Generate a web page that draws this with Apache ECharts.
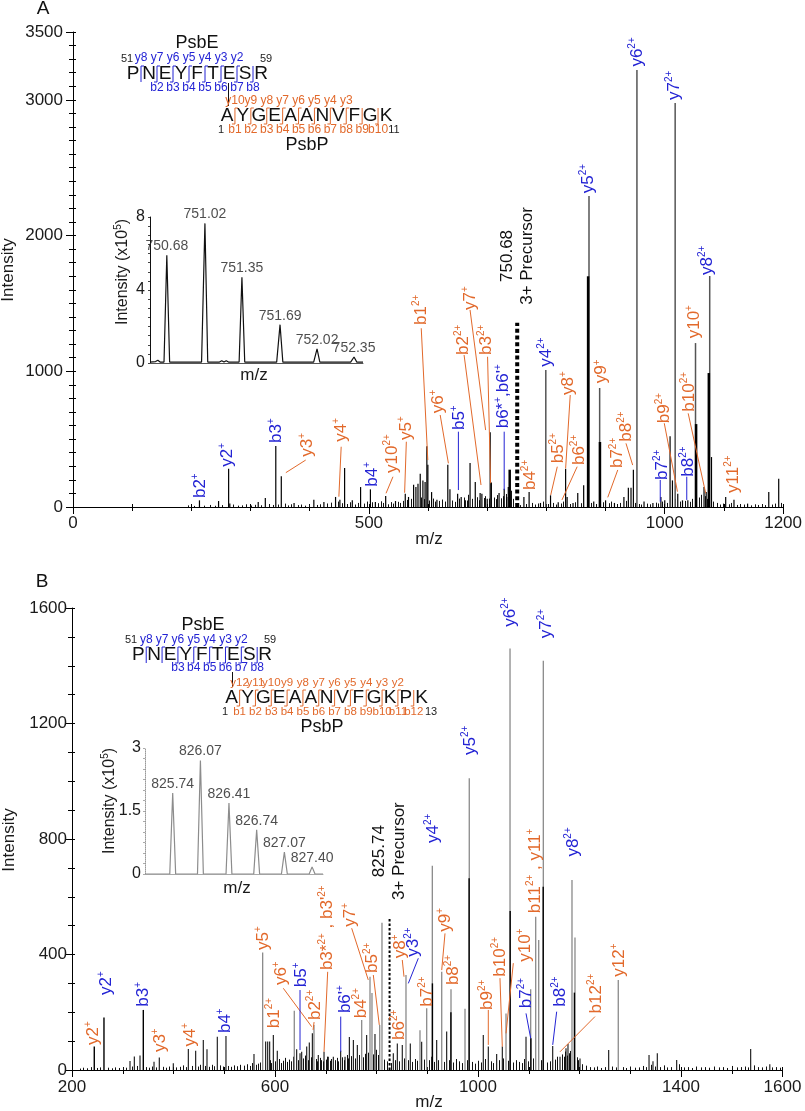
<!DOCTYPE html>
<html><head><meta charset="utf-8">
<script src="https://cdn.jsdelivr.net/npm/echarts@6.0.0/dist/echarts.min.js"></script>
<style>html,body{margin:0;padding:0;background:#fff}#c{width:805px;height:1111px}</style>
</head><body><div id="c"></div><script>
// ---------------- DATA ----------------
const aXTicks = [0, 500, 1000, 1200];
const aYTicks = [0, 1000, 2000, 3000, 3500];
const bXTicks = [200, 600, 1000, 1400, 1600];
const bYTicks = [0, 400, 800, 1200, 1600];
const insetATicks = [0, 4, 8];
const insetBTicks = [0, 1.5, 3];

// Panel A spectrum (m/z, intensity)
const aMajor = [[953,3220],[1017.6,2977],[872,2292],[1076,1702],[1052,1208],[799,1010],[890,877]];
const aBold = [[870.5,1700],[1074.5,987],[1053,611],[890.5,479],[738,275]];
const aPeaks = [[213.7,49],[246,44],[263,282],[265,25],[313,37],[325,66],[342.7,449],[352,226],[373.6,29],[407,54],[424,37],[443.7,74],[451,54],[459,287],[472,49],[486,147],[502.6,130],[511,37],[528.4,81],[545,44],[561.5,98],[567,74],[575.6,164],[579.5,147],[583,172],[586.8,245],[591.3,196],[595,184],[598,447],[599.7,312],[606,110],[615,54],[633.4,312],[637,130],[650,98],[656,74],[663,49],[671,324],[679.8,184],[688,103],[691,98],[700,60],[705,550],[707,180],[720,103],[728.7,135],[733,74],[735.6,147],[762,74],[770.8,110],[790,30],[807,86],[820,35],[832.5,282],[835,74],[845,30],[853,103],[863,160],[880,40],[900,49],[915,30],[931,74],[938.5,142],[943,142],[947,275],[965,40],[980,30],[993.5,74],[1000,49],[1009,521],[1013,196],[1022,98],[1030,49],[1039,49],[1066.4,147],[1070,110],[1079,368],[1103,74],[1117,54],[1140,25],[1175.8,110],[1192.6,209]];
const aNoise = [[195,12],[205,8],[222,10],[232,15],[240,9],[252,14],[270,18],[278,10],[285,12],[292,20],[300,11],[308,16],[318,13],[332,22],[338,15],[346,18],[358,25],[364,12],[368,20],[380,14],[386,18],[392,10],[398,22],[412,15],[418,20],[430,26],[436,32],[447,40],[455,28],[463,22],[468,35],[477,18],[482,30],[491,25],[496,40],[506,35],[515,28],[520,42],[524,30],[533,20],[537,36],[541,25],[549,38],[553,30],[557,45],[564,52],[571,60],[574,40],[588,70],[593,58],[602,48],[609,62],[612,40],[619,45],[624,55],[628,40],[641,48],[645,38],[653,62],[660,70],[666,48],[668,90],[675,60],[683,72],[686,50],[694,66],[697,80],[703,62],[711,70],[714,58],[717,88],[723,64],[726,80],[731,96],[740,120],[743,60],[756,14],[766,22],[775,30],[780,18],[786,26],[795,40],[803,22],[812,30],[816,18],[825,26],[828,40],[840,22],[849,35],[858,28],[868,40],[876,30],[884,22],[895,35],[905,28],[909,40],[920,22],[925,30],[935,45],[950,30],[957,22],[960,18],[970,25],[975,20],[985,32],[989,26],[996,40],[1004,30],[1018,60],[1026,40],[1034,45],[1042,38],[1046,60],[1058,70],[1062,90],[1068,80],[1072,60],[1082,40],[1088,30],[1094,18],[1098,25],[1108,20],[1112,30],[1122,15],[1128,22],[1134,18],[1146,12],[1152,20],[1158,15],[1164,22],[1170,14],[1182,18],[1187,25],[1196,30]];
const precursorA = [750.68, 1358];

// Panel B spectrum
const bGray = [[1063.1,1460],[1128.7,1417],[982.8,1010],[910,707],[1185.2,658],[1191.1,459],[810.8,510],[1113.7,531],[1119.6,450],[575.7,407],[858.1,329],[928.5,340],[1276.4,312],[787.2,323],[791.1,267],[1103.8,280],[898.9,214],[946.8,280],[974.4,212],[638,205],[1055.2,196],[885.7,138],[806.3,156],[676.8,156],[770.8,173]];
const bBlack = [[982.5,664],[1063.4,551],[1128.5,635],[1190,268],[1104.2,110],[340.5,208],[263,182],[243.9,81],[910.2,300],[946.6,200]];
const bPeaks = [[314.3,31],[322.8,47],[334,50],[361.6,29],[372,43],[399.6,23],[429.2,73],[443.7,67],[458.7,104],[466,72],[486.3,115],[503.4,118],[558.6,55],[581.6,99],[585.6,99],[589.5,99],[596.7,121],[604.5,67],[642.7,72],[649.3,58],[652.6,63],[662.5,81],[667.6,95],[673.6,127],[685.3,52],[696.6,63],[705,46],[714.9,46],[729.4,67],[738,46],[746.5,114],[754.4,104],[762.2,87],[780.6,121],[797,125],[833.1,58],[841,92],[850.8,87],[866.6,92],[889,98],[918.6,104],[938.3,133],[1010.4,121],[1020.3,81],[1036.8,55],[1047.9,81],[1094.6,115],[1147.2,83],[1161.6,46],[1173.4,75],[1177.3,90],[1201,40],[1257.5,69],[1337,52],[1344.8,30],[1353.3,58],[1391.5,35],[1537.3,73],[1575,20]];
const bNoise = [[215,5],[222,8],[230,6],[238,10],[250,7],[256,9],[270,8],[278,6],[285,9],[292,7],[300,10],[306,8],[318,12],[328,14],[345,10],[352,8],[358,12],[366,9],[380,11],[386,8],[392,12],[405,9],[412,11],[418,16],[424,10],[436,14],[448,12],[452,18],[462,14],[470,11],[476,18],[480,13],[492,16],[498,12],[508,14],[514,11],[520,16],[526,13],[532,18],[538,15],[544,20],[550,14],[554,24],[562,18],[566,22],[570,26],[590,34],[593,24],[600,30],[608,38],[612,24],[616,32],[620,42],[624,28],[628,36],[632,30],[635,46],[645,34],[656,40],[660,50],[665,34],[670,44],[680,38],[683,30],[688,42],[691,34],[694,30],[700,36],[703,46],[708,32],[711,38],[718,34],[722,42],[725,30],[733,44],[736,34],[741,52],[744,40],[750,48],[758,40],[766,52],[774,44],[777,56],[784,60],[794,54],[800,70],[803,52],[814,36],[820,30],[828,24],[837,34],[845,30],[854,40],[862,34],[870,28],[876,38],[880,32],[893,36],[903,34],[907,46],[914,28],[922,34],[933,28],[942,34],[951,26],[957,38],[962,30],[968,24],[978,34],[988,28],[994,22],[1000,32],[1005,26],[1014,38],[1025,30],[1030,24],[1041,34],[1050,40],[1060,32],[1068,26],[1075,34],[1080,28],[1086,24],[1090,38],[1098,30],[1108,40],[1124,34],[1136,26],[1142,30],[1152,36],[1156,46],[1165,54],[1169,46],[1172,64],[1175,50],[1180,58],[1182,66],[1195,44],[1198,34],[1205,20],[1212,15],[1220,10],[1228,9],[1235,12],[1242,7],[1250,10],[1265,12],[1272,9],[1285,10],[1292,7],[1300,12],[1310,8],[1318,9],[1326,14],[1332,10],[1340,18],[1348,12],[1358,10],[1366,16],[1372,9],[1380,10],[1397,20],[1405,9],[1414,10],[1422,7],[1430,12],[1440,9],[1448,10],[1456,8],[1465,12],[1474,9],[1482,10],[1490,7],[1500,14],[1510,9],[1518,10],[1526,12],[1532,9],[1544,16],[1552,10],[1560,9],[1568,12],[1580,9],[1588,10],[1596,8]];
const precursorB = [825.74, 529];

// Insets (m/z, intensity x10^5)
const insetAPeaks = [[750.68,5.9],[751.02,7.65],[751.35,4.7],[751.69,2.1],[752.02,0.77],[752.35,0.33]];
const insetAProfile = [[750.53,0.05],[750.58,0.08],[750.60,0.15],[750.62,0.05],[750.655,0.05],[750.68,5.9],[750.705,0.05],[750.99,0.05],[751.02,7.65],[751.045,0.05],[751.15,0.05],[751.17,0.12],[751.19,0.05],[751.21,0.12],[751.23,0.05],[751.325,0.05],[751.35,4.7],[751.375,0.05],[751.66,0.05],[751.69,2.1],[751.715,0.05],[751.99,0.05],[752.02,0.77],[752.045,0.05],[752.32,0.05],[752.35,0.33],[752.375,0.05],[752.43,0.05]];
const insetBPeaks = [[825.74,1.93],[826.07,2.7],[826.41,1.69],[826.74,1.05],[827.07,0.52],[827.40,0.17]];
const insetBProfile = [[825.41,0],[825.705,0],[825.74,1.93],[825.775,0],[826.035,0],[826.07,2.7],[826.105,0],[826.375,0],[826.41,1.69],[826.445,0],[826.705,0],[826.74,1.05],[826.775,0],[827.035,0],[827.07,0.52],[827.105,0],[827.365,0],[827.40,0.17],[827.435,0],[827.53,0]];

// Fragment-ion annotations: text, colour, text anchor [m/z, I], optional leader line
const aAnnots = [
 {t:'b2{+}',c:'b',at:[214.9,66]},
 {t:'y2{+}',c:'b',at:[261.4,297]},
 {t:'b3{+}',c:'b',at:[342.8,472]},
 {t:'y3{+}',c:'o',at:[396,371],from:[393.3,346],to:[359.7,253]},
 {t:'y4{+}',c:'o',at:[453.2,481],from:[453.2,444],to:[449.3,76]},
 {t:'b4{+}',c:'b',at:[505.4,150]},
 {t:'y10{2+}',c:'o',at:[539,251],from:[540.7,223],to:[529,101]},
 {t:'y5{+}',c:'o',at:[563.3,494],from:[563.3,481],to:[560.4,105]},
 {t:'b1{2+}',c:'o',at:[588.5,1341],from:[588.5,1317],to:[599.6,346]},
 {t:'y6{+}',c:'o',at:[617.6,690],from:[620.5,678],to:[634.4,322]},
 {t:'b5{+}',c:'b',at:[652.5,567],from:[651.3,555],to:[651.3,125]},
 {t:'b2{2+}',c:'o',at:[659.7,1120],from:[660.9,1120],to:[689.5,162]},
 {t:'y7{+}',c:'o',at:[671,1452],from:[671,1452],to:[697.3,567]},
 {t:'b3{2+}',c:'o',at:[699,1120],from:[700.6,1107],to:[705.7,175]},
 {t:"b6*{+},b6'{+}",c:'b',at:[727,580],from:[728.7,555],to:[728.7,125]},
 {t:'750.68\n3+ Precursor',c:'k',at:[750.6,1850]},
 {t:'b4{2+}',c:'o',at:[773,125]},
 {t:'y4{2+}',c:'b',at:[800,1034]},
 {t:'b5{2+}',c:'o',at:[819.6,322],from:[818.4,297],to:[807.3,88]},
 {t:'y8{+}',c:'o',at:[836.4,825],from:[840.3,825],to:[832.5,285]},
 {t:'b6{2+}',c:'o',at:[856,309],from:[852,297],to:[826.3,52]},
 {t:'y9{+}',c:'o',at:[893.6,912]},
 {t:'b7{2+}',c:'o',at:[920.6,287],from:[920.6,273],to:[903.7,71]},
 {t:'b8{2+}',c:'o',at:[934.5,481],from:[934.5,469],to:[945.8,309]},
 {t:'y6{2+}',c:'b',at:[954.2,3245]},
 {t:'y5{2+}',c:'b',at:[870,2312]},
 {t:'y7{2+}',c:'b',at:[1016,2999]},
 {t:'y8{2+}',c:'b',at:[1072,1710]},
 {t:'b7{2+}',c:'b',at:[996.3,199],from:[992.4,199],to:[992.4,39]},
 {t:'b9{2+}',c:'o',at:[999.2,617],from:[999.2,617],to:[1021.5,113]},
 {t:'b8{2+}',c:'b',at:[1039.5,223],from:[1037.2,223],to:[1037.2,52]},
 {t:'b10{2+}',c:'o',at:[1042.2,702],from:[1039.6,690],to:[1069.2,101]},
 {t:'y10{+}',c:'o',at:[1050.7,1243]},
 {t:'y11{2+}',c:'o',at:[1115.3,103]}
];
const bAnnots = [
 {t:'y2{+}',c:'o',at:[242,87]},
 {t:'y2{+}',c:'b',at:[268.4,260]},
 {t:'b3{+}',c:'b',at:[340.5,219]},
 {t:'y3{+}',c:'o',at:[373.4,62]},
 {t:'y4{+}',c:'o',at:[432.5,81]},
 {t:'b4{+}',c:'b',at:[502.9,128]},
 {t:'y5{+}',c:'o',at:[577,416]},
 {t:'b1{2+}',c:'o',at:[598,145]},
 {t:'y6{+}',c:'o',at:[613.2,294],from:[616.4,283],to:[672.3,150]},
 {t:'b5{+}',c:'b',at:[651.2,287],from:[649.3,277],to:[649.3,69]},
 {t:'b2{2+}',c:'o',at:[678.8,173],from:[677,166],to:[675,139]},
 {t:"b3*{2+} , b3'{2+}",c:'o',at:[703.8,346],from:[703.8,340],to:[696.6,63]},
 {t:"b6'{+}",c:'b',at:[738,197],from:[729.5,185],to:[729.5,63]},
 {t:'b4{2+}',c:'o',at:[770.8,179]},
 {t:'y7{+}',c:'o',at:[749.2,496],from:[751.1,491],to:[783.8,312]},
 {t:'b5{2+}',c:'o',at:[791.7,336],from:[793.7,329],to:[805.5,156]},
 {t:'825.74\n3+ Precursor',c:'k',at:[825.6,758]},
 {t:'b6{2+}',c:'o',at:[845,104]},
 {t:'y8{+}',c:'o',at:[846.3,387],from:[850.8,381],to:[854.2,323]},
 {t:'y3{2+}',c:'b',at:[872.5,392],from:[882.4,387],to:[862.7,300]},
 {t:'b7{2+}',c:'o',at:[900.1,219]},
 {t:'y4{2+}',c:'b',at:[912,786]},
 {t:'y5{2+}',c:'b',at:[984.2,1091]},
 {t:'y6{2+}',c:'b',at:[1064.4,1535]},
 {t:'y7{2+}',c:'b',at:[1135.4,1495]},
 {t:'b11{2+} , y11{+}',c:'o',at:[1112.3,543]},
 {t:'y8{2+}',c:'b',at:[1187.8,739]},
 {t:'y9{+}',c:'o',at:[935,479],from:[935,473],to:[928.5,346]},
 {t:'b8{2+}',c:'o',at:[951.3,294]},
 {t:'b9{2+}',c:'o',at:[1018.3,208],from:[1020.3,208],to:[1020.3,87]},
 {t:'b10{2+}',c:'o',at:[1043.3,323],from:[1043.3,318],to:[1047.9,81]},
 {t:'y10{+}',c:'o',at:[1092.6,375],from:[1069.6,370],to:[1055.2,127]},
 {t:'b7{2+}',c:'b',at:[1094.6,214],from:[1094.6,196],to:[1103.8,110]},
 {t:'b8{2+}',c:'b',at:[1161.6,219],from:[1155,202],to:[1147.2,87]},
 {t:'b12{2+}',c:'o',at:[1233.9,196],from:[1230.5,185],to:[1161.6,63]},
 {t:'y12{+}',c:'o',at:[1278.4,323]}
];

// ---------------- STYLE / LAYOUT ----------------
const FONT = "'Liberation Sans', Arial, Helvetica, sans-serif";
const BLUE = '#2323d4', ORANGE = '#e2692b';
const COL = {b: BLUE, o: ORANGE, k: '#111'};

function richStr(s) {
  let out = '', last = 0, m; const re = /\{([^}]*)\}/g;
  while ((m = re.exec(s))) {
    if (m.index > last) out += '{m|' + s.slice(last, m.index) + '}';
    out += '{s|' + m[1] + '}'; last = re.lastIndex;
  }
  if (last < s.length) out += '{m|' + s.slice(last) + '}';
  return out;
}

function ax(extra) {
  return Object.assign({type:'value', silent:true, splitLine:{show:false}, axisLine:{show:false},
    axisTick:{show:false}, axisLabel:{show:false}}, extra);
}
const lbl = (vals, size, margin) => ({show:true, customValues:vals, fontSize:size, color:'#1a1a1a', fontFamily:FONT,
  margin:margin, formatter:v => String(v)});
const BLK = {color:'#000', width:1};

function mainAxes(grid, pos, min, max, labels, margin) {
  return [
    ax({gridIndex:grid, position:pos, min, max, axisLine:{show:true, onZero:false, lineStyle:BLK},
        axisTick:{show:true, customValues:labels, length:7, lineStyle:BLK}, axisLabel:lbl(labels, 17, margin)}),
    ax({gridIndex:grid, position:pos, min, max, interval:100, axisTick:{show:true, length:4, lineStyle:BLK}}),
    ax({gridIndex:grid, position:pos, min, max, interval:100, axisTick:{show:true, inside:true, length:3, lineStyle:BLK}})
  ];
}

function peaks(data, xi, yi, color, w, z) {
  return {type:'custom', xAxisIndex:xi, yAxisIndex:yi, data, clip:true, silent:true, z,
    encode:{x:0, y:1},
    renderItem:(p, api) => {
      const a = api.coord([api.value(0), 0]), b = api.coord([api.value(0), api.value(1)]);
      const x = (w === 1) ? Math.round(a[0]) + 0.5 : a[0];
      return {type:'line', shape:{x1:x, y1:a[1], x2:x, y2:b[1]}, style:{stroke:color, lineWidth:w}};
    }};
}

function precursor(p, xi, yi, w, dash) {
  return {type:'custom', xAxisIndex:xi, yAxisIndex:yi, data:[p], silent:true, z:6, encode:{x:0,y:1},
    renderItem:(q, api) => {
      const a = api.coord([api.value(0), 0]), b = api.coord([api.value(0), api.value(1)]);
      return {type:'line', shape:{x1:a[0], y1:a[1], x2:a[0], y2:b[1]},
        style:{stroke:'#000', lineWidth:w, lineDash:dash, lineCap:'butt'}};
    }};
}

function annots(list, xi, yi) {
  return {type:'custom', xAxisIndex:xi, yAxisIndex:yi, data:list.map(a => a.at), clip:false, silent:true, z:10,
    encode:{x:0,y:1},
    renderItem:(p, api) => {
      const a = list[p.dataIndex], col = COL[a.c];
      const pt = api.coord(a.at);
      const children = [];
      if (a.c === 'k') {
        children.push({type:'text', x:pt[0], y:pt[1], rotation:Math.PI/2,
          style:{text:a.t, fill:col, fontSize:17, fontFamily:FONT, lineHeight:20, align:'center', verticalAlign:'middle'}});
      } else {
        children.push({type:'text', x:pt[0], y:pt[1], rotation:Math.PI/2,
          style:{text:richStr(a.t), align:'left', verticalAlign:'middle', fill:col,
            rich:{m:{fill:col, fontSize:17, fontFamily:FONT, lineHeight:20},
                  s:{fill:col, fontSize:10, fontFamily:FONT, lineHeight:10, verticalAlign:'top'}}}});
      }
      if (a.from) {
        const p1 = api.coord(a.from), p2 = api.coord(a.to);
        children.push({type:'line', shape:{x1:p1[0], y1:p1[1], x2:p2[0], y2:p2[1]}, style:{stroke:col, lineWidth:1}});
      }
      return {type:'group', children};
    }};
}

function txt(s, x, y, size, color, extra) {
  return Object.assign({type:'text', x, y, silent:true, z:20,
    style:{text:s, fontSize:size, fontFamily:FONT, fill:color, align:'center', verticalAlign:'middle',
      textAlign:'center', textVerticalAlign:'middle'}}, extra || {});
}
function richTxt(s, x, y, size, color, rot) {
  return {type:'text', x, y, rotation:rot || 0, silent:true, z:20,
    style:{text:richStr(s), align:'center', verticalAlign:'middle', fill:color,
      rich:{m:{fill:color, fontSize:size, fontFamily:FONT, lineHeight:size+3},
            s:{fill:color, fontSize:Math.round(size*0.6), fontFamily:FONT, lineHeight:Math.round(size*0.6), verticalAlign:'top'}}}};
}

function seq(cfg) {
  const els = [];
  const L = cfg.letters;
  for (let i = 0; i < L.length; i++) els.push(txt(L[i], cfg.x0 + i*cfg.dx, cfg.y, 19, '#111'));
  for (let g = 1; g < L.length; g++) {
    const gx = cfg.x0 + (g - 0.5)*cfg.dx;
    const yl = cfg.yl[g-1], bl = cfg.bl[g-1];
    if (!yl && !bl) continue;
    const pts = [];
    if (yl) pts.push([gx + 3, cfg.y - 8]);
    pts.push([gx, cfg.y - 8]); pts.push([gx, cfg.y + 8]);
    if (bl) pts.push([gx - 3, cfg.y + 8]);
    els.push({type:'polyline', silent:true, z:20, shape:{points:pts}, style:{stroke:cfg.color, lineWidth:1, fill:'none'}});
    if (yl) els.push(txt(yl, gx, cfg.ly, cfg.fs, cfg.color));
    if (bl) els.push(txt(bl, gx, cfg.lb, cfg.fs, cfg.color));
  }
  return els;
}

const graphic = [].concat(
  txt('A', 43, 9, 19, '#111'),
  txt('B', 42, 582, 19, '#111'),
  txt('Intensity', 8, 270, 17, '#1a1a1a', {rotation:Math.PI/2}),
  txt('Intensity', 9, 840, 17, '#1a1a1a', {rotation:Math.PI/2}),
  txt('m/z', 429, 539, 17, '#1a1a1a'),
  txt('m/z', 429, 1102, 17, '#1a1a1a'),
  txt('m/z', 254, 375, 17, '#1a1a1a'),
  txt('m/z', 237, 888, 17, '#1a1a1a'),
  richTxt('Intensity (x10{5})', 123, 272, 16, '#1a1a1a', Math.PI/2),
  richTxt('Intensity (x10{5})', 110, 801, 16, '#1a1a1a', Math.PI/2),
  // Panel A peptides
  txt('PsbE', 197, 43, 18, '#111'),
  txt('51', 127, 59, 11, '#222'), txt('59', 266, 59, 11, '#222'),
  seq({letters:'PNEYFTESR', x0:133, dx:16, y:74, color:BLUE, ly:58, lb:88, fs:12,
       yl:['y8','y7','y6','y5','y4','y3','y2',null], bl:[null,'b2','b3','b4','b5','b6','b7','b8']}),
  {type:'line', silent:true, z:20, shape:{x1:228.5, y1:83, x2:228.5, y2:106}, style:{stroke:'#111', lineWidth:1}},
  seq({letters:'AYGEAANVFGK', x0:227, dx:15.9, y:116, color:ORANGE, ly:101, lb:130, fs:12,
       yl:['y10','y9','y8','y7','y6','y5','y4','y3',null,null], bl:['b1','b2','b3','b4','b5','b6','b7','b8','b9','b10']}),
  txt('1', 221, 130, 11, '#222'), txt('11', 394, 130, 11, '#222'),
  txt('PsbP', 307, 145, 18, '#111'),
  // Panel B peptides
  txt('PsbE', 203, 625, 18, '#111'),
  txt('51', 131, 640, 11, '#222'), txt('59', 270, 640, 11, '#222'),
  seq({letters:'PNEYFTESR', x0:138.3, dx:15.85, y:655, color:BLUE, ly:640, lb:668, fs:12,
       yl:['y8','y7','y6','y5','y4','y3','y2',null], bl:[null,null,'b3','b4','b5','b6','b7','b8']}),
  {type:'line', silent:true, z:20, shape:{x1:232.5, y1:672, x2:232.5, y2:687}, style:{stroke:'#111', lineWidth:1}},
  seq({letters:'AYGEAANVFGKPK', x0:231.7, dx:15.83, y:698, color:ORANGE, ly:683, lb:712, fs:11.5,
       yl:['y12','y11','y10','y9','y8','y7','y6','y5','y4','y3','y2',null],
       bl:['b1','b2','b3','b4','b5','b6','b7','b8','b9','b10','b11','b12']}),
  txt('1', 225, 712, 11, '#222'), txt('13', 431, 712, 11, '#222'),
  txt('PsbP', 322, 727, 18, '#111')
);

const option = {
  animation:false,
  backgroundColor:'#fff',
  grid:[
    {left:73, top:32, width:713, height:475},
    {left:72, top:608, width:710.5, height:462},
    {left:150, top:217, width:213, height:146},
    {left:145, top:748, width:178, height:126}
  ],
  xAxis:[].concat(
    mainAxes(0, 'bottom', 0, 1200, aXTicks, 8),
    mainAxes(1, 'bottom', 200, 1600, bXTicks, 9),
    [ax({gridIndex:2, position:'bottom', min:750.53, max:752.43, axisLine:{show:true, onZero:false, lineStyle:{color:'#555', width:1}}}),
     ax({gridIndex:3, position:'bottom', min:825.41, max:827.53, axisLine:{show:true, onZero:false, lineStyle:{color:'#aaa', width:1}}})]
  ),
  yAxis:[].concat(
    mainAxes(0, 'left', 0, 3500, aYTicks, 10),
    mainAxes(1, 'left', 0, 1600, bYTicks, 5),
    [ax({gridIndex:2, position:'left', min:0, max:8, interval:0.5, axisLine:{show:true, onZero:false, lineStyle:{color:'#111', width:1}},
         axisTick:{show:true, length:2, lineStyle:{color:'#444'}}, axisLabel:lbl(insetATicks, 16, 5)}),
     ax({gridIndex:3, position:'left', min:0, max:3, interval:0.25, axisLine:{show:true, onZero:false, lineStyle:{color:'#999', width:1, type:'dotted'}},
         axisTick:{show:true, length:2, lineStyle:{color:'#aaa'}}, axisLabel:lbl(insetBTicks, 16, 4)})]
  ),
  graphic: graphic,
  series:[
    peaks(aNoise, 0, 0, '#111', 1, 1),
    peaks(aPeaks, 0, 0, '#000', 1.2, 2),
    peaks(aMajor, 0, 0, '#555', 1.5, 3),
    peaks(aBold, 0, 0, '#000', 2.5, 4),
    precursor(precursorA, 0, 0, 4, [4, 2.7]),
    annots(aAnnots, 0, 0),
    peaks(bNoise, 3, 3, '#111', 1, 1),
    peaks(bPeaks, 3, 3, '#111', 1.1, 2),
    peaks(bGray, 3, 3, '#8a8a8a', 1.3, 3),
    peaks(bBlack, 3, 3, '#000', 1.4, 4),
    precursor(precursorB, 3, 3, 2, [2.5, 2]),
    annots(bAnnots, 3, 3),
    {type:'line', xAxisIndex:6, yAxisIndex:6, data:insetAProfile, showSymbol:false, silent:true, z:5,
     lineStyle:{color:'#111', width:1.2}},
    {type:'scatter', xAxisIndex:6, yAxisIndex:6, data:insetAPeaks, symbolSize:0, silent:true, z:6,
     label:{show:true, position:'top', distance:2, fontSize:14, fontFamily:FONT, color:'#222', formatter:p => p.value[0].toFixed(2)}},
    {type:'line', xAxisIndex:7, yAxisIndex:7, data:insetBProfile, showSymbol:false, silent:true, z:5,
     lineStyle:{color:'#8c8c8c', width:1.2}},
    {type:'scatter', xAxisIndex:7, yAxisIndex:7, data:insetBPeaks, symbolSize:0, silent:true, z:6,
     label:{show:true, position:'top', distance:2, fontSize:14, fontFamily:FONT, color:'#222', formatter:p => p.value[0].toFixed(2)}}
  ]
};
const chart = echarts.init(document.getElementById('c'), null, {renderer:'canvas', width:805, height:1111});
chart.setOption(option);
</script></body></html>
